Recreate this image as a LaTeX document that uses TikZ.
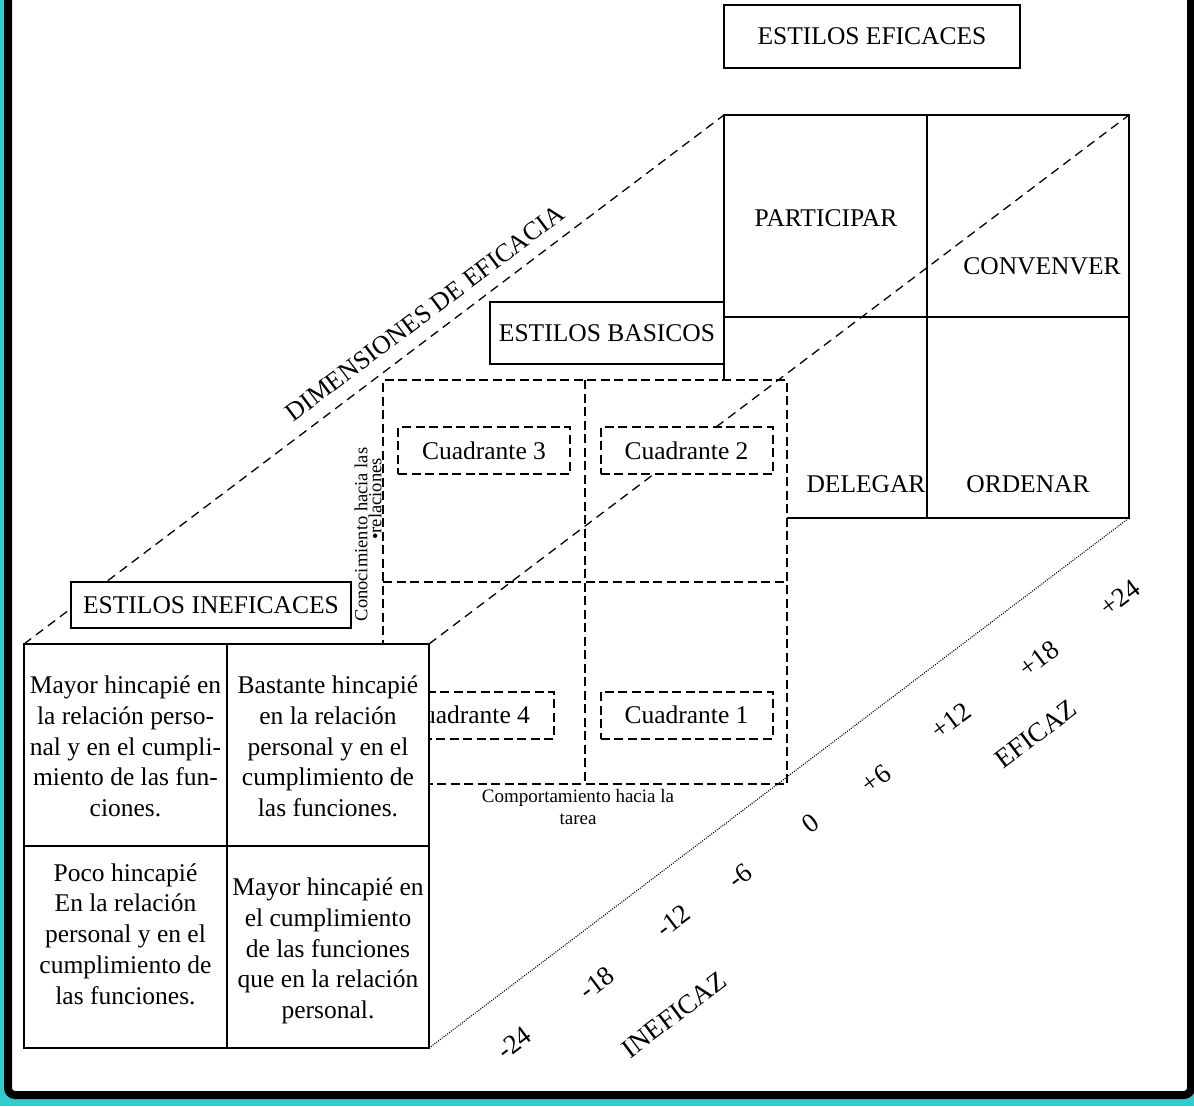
\documentclass[tikz,border=0pt]{standalone}
\usepackage{fontspec}
\setmainfont{Liberation Serif}
\definecolor{frameteal}{RGB}{51,204,204}
\newcommand\mainsz{\fontsize{25.5pt}{30.8pt}\selectfont}
\newcommand\notesz{\fontsize{19pt}{22pt}\selectfont}
\newcommand\relsz{\fontsize{18.5pt}{13pt}\selectfont}
\newcommand\axissz{\fontsize{27pt}{30pt}\selectfont}
\newcommand\dimsz{\fontsize{25.8pt}{30pt}\selectfont}

\begin{document}
\begin{tikzpicture}[x=1pt,y=-1pt,
  every node/.style={outer sep=0pt},
  solidgrid/.style={draw, fill=white, line width=2pt, inner sep=0pt},
  basicline/.style={dash pattern=on 9pt off 4.5pt, line width=2.2pt},
  titlebox/.style={draw, fill=white, line width=1.6pt, inner sep=0pt, font=\mainsz},
  quadbox/.style={draw, fill=white, dash pattern=on 9pt off 4.5pt, line width=2pt,
    inner sep=0pt, minimum width=172pt, minimum height=47pt, font=\mainsz},
  depthline/.style={dash pattern=on 9pt off 6pt, line width=1.3pt},
  scaleline/.style={dash pattern=on 1pt off 1.3pt, line width=1.1pt},
  celltext/.style={align=center, font=\mainsz, inner sep=0pt},
  styletext/.style={font=\mainsz, inner sep=0pt},
  axislabel/.style={rotate=37, font=\axissz, inner sep=0pt},
]
\useasboundingbox (0,0) rectangle (1194,1106);

% frame
\fill[frameteal] (0,0) rectangle (1194,1106);
\begin{scope}
  \clip (0,0) rectangle (1194,1106);
  \draw[line width=8pt, fill=white, rounded corners=7pt] (8,-40) rectangle (1191,1095);
\end{scope}

% effective styles (back plane)
\node[titlebox, minimum width=296pt, minimum height=63pt] (efTitle) at (872,36.5) {ESTILOS EFICACES};
\node[solidgrid, minimum width=405pt, minimum height=403pt] (eff) at (926.5,316.5) {};
\draw[line width=2pt] (eff.north) -- (eff.south) (eff.west) -- (eff.east);
\node[styletext] (participar) at (826,218) {PARTICIPAR};
\node[styletext] (convencer) at (1042,266) {CONVENVER};
\node[styletext] (delegar) at (866,484) {DELEGAR};
\node[styletext] (ordenar) at (1028,484) {ORDENAR};

% basic styles (middle plane)
\node[titlebox, minimum width=234pt, minimum height=62pt] (basTitle) at (607,333) {ESTILOS BASICOS};
\node[draw, fill=white, basicline, inner sep=0pt, minimum width=404pt, minimum height=404pt] (bas) at (585,582) {};
\draw[basicline] (bas.north) -- (bas.south) (bas.west) -- (bas.east);
\node[quadbox] (q4) at (468,715) {Cuadrante 4};
\node[quadbox] (q3) at (484,450.5) {Cuadrante 3};

% ineffective styles (front plane)
\node[solidgrid, minimum width=405pt, minimum height=404pt] (ineff) at (226.5,846) {};
\draw[line width=2pt] (ineff.north) -- (ineff.south) (ineff.west) -- (ineff.east);
\node[celltext] (tA) at (125.5,746.5) {Mayor hincapié en\\la relación perso-\\nal y en el cumpli-\\miento de las fun-\\ciones.};
\node[celltext] (tB) at (328,746.5) {Bastante hincapié\\en la relación\\personal y en el\\cumplimiento de\\las funciones.};
\node[celltext] (tC) at (125.5,934) {Poco hincapié\\En la relación\\personal y en el\\cumplimiento de\\las funciones.};
\node[celltext] (tD) at (328,951) {Mayor hincapié en\\el cumplimiento\\de las funciones\\que en la relación\\personal.};

% depth edges
\draw[depthline] (ineff.north east) -- (eff.north east);
\node[quadbox] (q2) at (686.5,450.5) {Cuadrante 2};
\node[quadbox] (q1) at (686.5,715) {Cuadrante 1};
\draw[depthline] (ineff.north west) -- (eff.north west);
\node[titlebox, minimum width=280pt, minimum height=46pt] (inTitle) at (211,605) {ESTILOS INEFICACES};
\draw[scaleline] (ineff.south east) -- (eff.south east);

% axis names of the basic grid
\node[font=\notesz, align=center, inner sep=0pt] (tarea) at (578,807) {Comportamiento hacia la\\tarea};
\node[font=\relsz, rotate=90, inner sep=0pt] (relA) at (361,534.5) {Conocimiento hacia las};
\node[font=\relsz, rotate=90, inner sep=0pt] (relB) at (375,499) {•relaciones};

% effectiveness dimension
\node[font=\dimsz, rotate=37, inner sep=0pt] (dims) at (425,313) {DIMENSIONES DE EFICACIA};

% scale along the dotted edge
\node[axislabel] (m24) at (514,1043) {-24};
\node[axislabel] (m18) at (597,983) {-18};
\node[axislabel] (m12) at (673,921) {-12};
\node[axislabel] (m6) at (740,876) {-6};
\node[axislabel] (z0) at (811,823) {0};
\node[axislabel] (p6) at (876,779) {+6};
\node[axislabel] (p12) at (951,721) {+12};
\node[axislabel] (p18) at (1039,659) {+18};
\node[axislabel] (p24) at (1120,598) {+24};
\node[axislabel] (inef) at (674,1015) {INEFICAZ};
\node[axislabel] (efic) at (1036,734) {EFICAZ};
\end{tikzpicture}
\end{document}
